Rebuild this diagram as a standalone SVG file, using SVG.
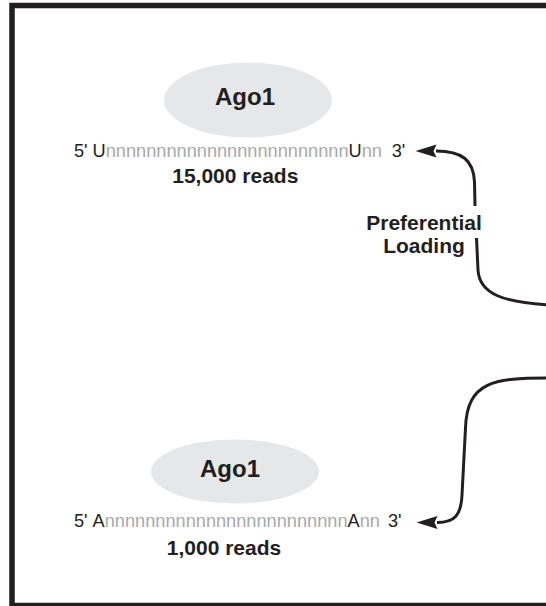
<svg xmlns="http://www.w3.org/2000/svg" width="546" height="606" viewBox="0 0 546 606">
<style>
.frame{fill:none;stroke:#231f20;stroke-width:5.5}
.blob{fill:#e6e7e8}
.ago{font-family:"Liberation Sans",Arial,sans-serif;font-weight:bold;font-size:24px;fill:#231f20;text-anchor:middle}
.seq{font-family:"Liberation Sans",Arial,sans-serif;font-size:18.2px;fill:#231f20}
.n{fill:#a7a9ac}
.reads{font-family:"Liberation Sans",Arial,sans-serif;font-weight:bold;font-size:21px;fill:#231f20;text-anchor:middle}
.lbl{font-family:"Liberation Sans",Arial,sans-serif;font-weight:bold;font-size:21px;fill:#231f20;text-anchor:middle}
.conn{fill:none;stroke:#231f20;stroke-width:3}
</style>
<defs>
<marker id="ah" markerUnits="userSpaceOnUse" markerWidth="22" markerHeight="14" viewBox="0 0 21 14" refX="0.5" refY="7" orient="auto">
<path d="M0,0.5 L21,7 L0,13.5 L3,7 z" fill="#231f20"/>
</marker>
</defs>
<rect class="frame" x="12" y="5.5" width="600" height="600"/>
<g id="top-ago1">
<ellipse class="blob" cx="248" cy="100" rx="84" ry="37.5"/>
<text class="ago" x="245" y="104.5">Ago1</text>
</g>
<g id="top-seq">
<text class="seq" y="156.7"><tspan x="74">5' </tspan><tspan x="92.6">U</tspan><tspan class="n">nnnnnnnnnnnnnnnnnnnnnnnn</tspan><tspan>U</tspan><tspan class="n">nn</tspan><tspan x="391.7">3'</tspan></text>
<text class="reads" x="235.3" y="183.3">15,000 reads</text>
</g>
<g id="label">
<text class="lbl" x="424" y="229.5">Preferential</text>
<text class="lbl" x="424" y="253.3">Loading</text>
</g>
<g id="bottom-ago1">
<ellipse class="blob" cx="235" cy="471.5" rx="84" ry="32"/>
<text class="ago" x="230" y="476.7">Ago1</text>
</g>
<g id="bottom-seq">
<text class="seq" y="526.7"><tspan x="74">5' </tspan><tspan x="92.6">A</tspan><tspan class="n">nnnnnnnnnnnnnnnnnnnnnnnn</tspan><tspan>A</tspan><tspan class="n">nn</tspan><tspan x="388">3'</tspan></text>
<text class="reads" x="224" y="555">1,000 reads</text>
</g>
<g id="connectors">
<path class="conn" d="M475,206 L474.5,182 C473.5,160 462,151 436,151" marker-end="url(#ah)"/>
<path class="conn" d="M476.5,238 L478,270 C479.5,295 505,302 548,305"/>
<path class="conn" d="M548,378 C495,378 467,381 465.5,428 L462,495 C461,515 455,522.5 437,522.5" marker-end="url(#ah)"/>
</g>
</svg>
